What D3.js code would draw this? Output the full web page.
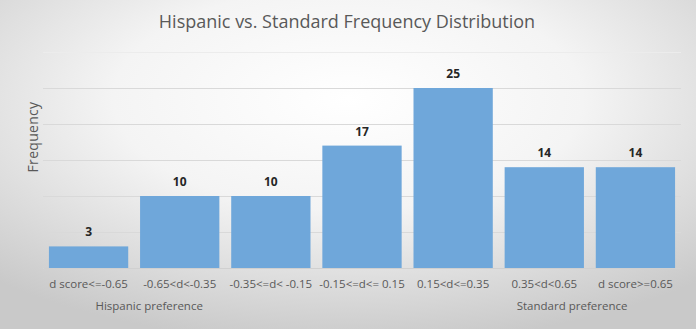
<!DOCTYPE html>
<html>
<head>
<meta charset="utf-8">
<script src="https://cdn.jsdelivr.net/npm/d3@7"></script>
<style>
	html, body { margin: 0; padding: 0; background: #fff; }
	#chart { width: 696px; height: 329px; }
	text { font-family: "Open Sans", "Liberation Sans", sans-serif; }
</style>
</head>
<body>
<div id="chart"></div>
<script>
//////////////////////////// data /////////////////////////////////////////

const categories = [
	"d score<=-0.65",
	"-0.65<d<-0.35",
	"-0.35<=d< -0.15",
	"-0.15<=d<= 0.15",
	"0.15<d<=0.35",
	"0.35<d<0.65",
	"d score>=0.65"
];
const counts = [3, 10, 10, 17, 25, 14, 14];
const yTicks = [0, 5, 10, 15, 20, 25, 30];
const groupLabels = ["Hispanic preference", "Standard preference"];

const title = "Hispanic vs. Standard Frequency Distribution";
const yTitle = "Frequency";

//////////////////////////// sizes ////////////////////////////////////////

const dimensions = {
	width: 696,
	height: 329,
	margin: { top: 52, right: 15, bottom: 61, left: 43 }
};
dimensions.boundedWidth =
	dimensions.width - dimensions.margin.left - dimensions.margin.right;
dimensions.boundedHeight =
	dimensions.height - dimensions.margin.top - dimensions.margin.bottom;

const svg = d3
	.select("#chart")
	.append("svg")
	.attr("width", dimensions.width)
	.attr("height", dimensions.height);

// background gradient
const defs = svg.append("defs");
const grad = defs
	.append("radialGradient")
	.attr("id", "bg")
	.attr("cx", "50%")
	.attr("cy", "30%")
	.attr("r", "75%");
grad.append("stop").attr("offset", "0%").attr("stop-color", "#ffffff");
grad.append("stop").attr("offset", "45%").attr("stop-color", "#f4f4f4");
grad.append("stop").attr("offset", "100%").attr("stop-color", "#c9c9c9");

svg
	.append("rect")
	.attr("width", dimensions.width)
	.attr("height", dimensions.height)
	.attr("fill", "url(#bg)");

const bounds = svg
	.append("g")
	.attr(
		"transform",
		`translate(${dimensions.margin.left},${dimensions.margin.top})`
	);

//////////////////////////// scales ///////////////////////////////////////

const xScale = d3
	.scaleBand()
	.domain(categories)
	.range([0, dimensions.boundedWidth])
	.paddingInner(0.13)
	.paddingOuter(0.065);

const yScale = d3
	.scaleLinear()
	.domain([0, 30])
	.range([dimensions.boundedHeight, 0]);

//////////////////////////// grid /////////////////////////////////////////

const yAxisGenerator = d3
	.axisLeft(yScale)
	.tickValues(yTicks)
	.tickSize(-dimensions.boundedWidth)
	.tickFormat("");

const yAxis = bounds.append("g").call(yAxisGenerator);
yAxis.select(".domain").remove();
yAxis
	.selectAll(".tick line")
	.attr("stroke", (d) => (d === 30 ? "#ececec" : "#d9d9d9"))
	.attr("stroke-width", 1.2);

//////////////////////////// bars /////////////////////////////////////////

bounds
	.selectAll(".bar")
	.data(counts)
	.enter()
	.append("rect")
	.attr("class", "bar")
	.attr("x", (d, i) => xScale(categories[i]))
	.attr("y", (d) => yScale(d))
	.attr("width", xScale.bandwidth())
	.attr("height", (d) => yScale(0) - yScale(d))
	.attr("fill", "#6fa7da");

bounds
	.selectAll(".val")
	.data(counts)
	.enter()
	.append("text")
	.attr("class", "val")
	.attr("x", (d, i) => xScale(categories[i]) + xScale.bandwidth() / 2)
	.attr("y", (d) => yScale(d) - 10)
	.attr("text-anchor", "middle")
	.attr("font-size", 12)
	.attr("font-weight", "bold")
	.attr("fill", "#262626")
	.text((d) => d);

//////////////////////////// x axis ///////////////////////////////////////

const xAxisGenerator = d3.axisBottom(xScale).tickSize(0).tickPadding(12);

const xAxis = bounds
	.append("g")
	.attr("transform", `translate(0,${dimensions.boundedHeight})`)
	.call(xAxisGenerator);
xAxis.select(".domain").attr("stroke", "#d0d0d0");
xAxis
	.selectAll(".tick text")
	.attr("font-size", 11.5)
	.attr("fill", "#595959")
	.style("font-family", "'Open Sans', sans-serif");

// group labels under the axis
const step = xScale.step();
const groupX = [
	xScale(categories[0]) + step * 1.1,
	xScale(categories[5]) + step * 0.74
];
bounds
	.selectAll(".group")
	.data(groupLabels)
	.enter()
	.append("text")
	.attr("class", "group")
	.attr("x", (d, i) => groupX[i])
	.attr("y", dimensions.boundedHeight + 42)
	.attr("text-anchor", "middle")
	.attr("font-size", 11.5)
	.attr("fill", "#595959")
	.text((d) => d);

//////////////////////////// titles ///////////////////////////////////////

svg
	.append("text")
	.attr("x", 347)
	.attr("y", 27.5)
	.attr("text-anchor", "middle")
	.attr("font-size", 18)
	.attr("fill", "#595959")
	.text(title);

svg
	.append("text")
	.attr("transform", `translate(38,137) rotate(-90)`)
	.attr("text-anchor", "middle")
	.attr("font-size", 14)
	.attr("letter-spacing", 0.3)
	.attr("fill", "#595959")
	.text(yTitle);
</script>
</body>
</html>
